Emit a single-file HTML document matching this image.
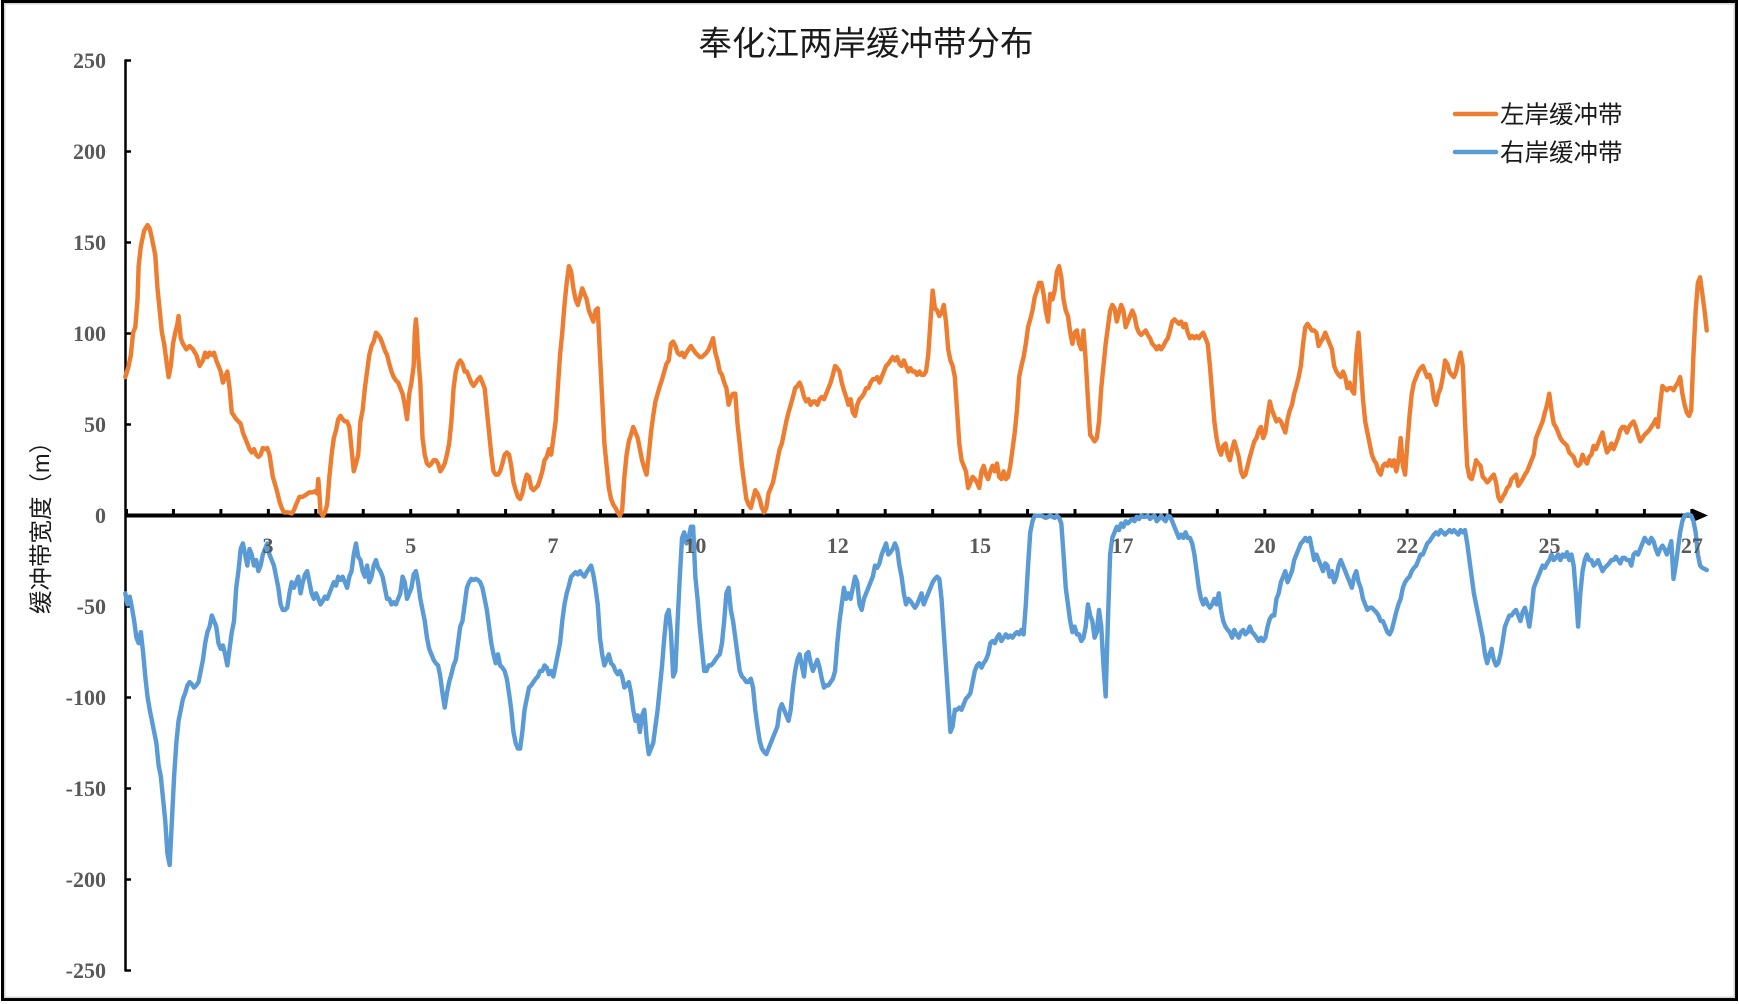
<!DOCTYPE html>
<html>
<head>
<meta charset="utf-8">
<style>
html,body{margin:0;padding:0;background:#fff;}
svg{display:block;}
</style>
</head>
<body>
<svg width="1739" height="1004" viewBox="0 0 1739 1004" xmlns="http://www.w3.org/2000/svg">
<rect x="0" y="0" width="1739" height="1004" fill="#fff"/>
<rect x="2.5" y="1.5" width="1734" height="998" fill="none" stroke="#000" stroke-width="3"/>
<rect x="4.8" y="3.8" width="1729.5" height="993.5" fill="none" stroke="#d4d4d4" stroke-width="1.5"/>

<text x="866" y="55" text-anchor="middle" font-family="'Liberation Sans','Noto Sans CJK SC',sans-serif" font-size="33.5" fill="#1a1a1a">奉化江两岸缓冲带分布</text>

<!-- y axis -->
<g stroke="#000" stroke-width="2.5" fill="none">
<line x1="125.5" y1="60" x2="125.5" y2="971"/>
<line x1="124.5" y1="60.5" x2="131" y2="60.5"/>
<line x1="124.5" y1="151.5" x2="131" y2="151.5"/>
<line x1="124.5" y1="242.5" x2="131" y2="242.5"/>
<line x1="124.5" y1="333.5" x2="131" y2="333.5"/>
<line x1="124.5" y1="424.5" x2="131" y2="424.5"/>
<line x1="124.5" y1="606.5" x2="131" y2="606.5"/>
<line x1="124.5" y1="697.5" x2="131" y2="697.5"/>
<line x1="124.5" y1="788.5" x2="131" y2="788.5"/>
<line x1="124.5" y1="879.5" x2="131" y2="879.5"/>
<line x1="124.5" y1="970.5" x2="131" y2="970.5"/>
</g>
<g font-family="'Liberation Serif',serif" font-weight="bold" font-size="22" fill="#595959" text-anchor="end">
<text x="106" y="68">250</text>
<text x="106" y="159">200</text>
<text x="106" y="250">150</text>
<text x="106" y="341">100</text>
<text x="106" y="432">50</text>
<text x="106" y="523">0</text>
<text x="106" y="614">-50</text>
<text x="106" y="705">-100</text>
<text x="106" y="796">-150</text>
<text x="106" y="887">-200</text>
<text x="106" y="978">-250</text>
</g>
<text transform="translate(49,522) rotate(-90)" text-anchor="middle" font-family="'Liberation Sans','Noto Sans CJK SC',sans-serif" font-size="23.5" fill="#1a1a1a">缓冲带宽度（m）</text>

<!-- x axis -->
<line x1="125" y1="515.5" x2="1695" y2="515.5" stroke="#000" stroke-width="4"/>
<polygon points="1692,508.5 1708,515.5 1692,522.5" fill="#000"/>
<g stroke="#000" stroke-width="3">
<line x1="126.5" y1="509" x2="126.5" y2="515"/>
<line x1="173.45" y1="509" x2="173.45" y2="515"/>
<line x1="220.9" y1="509" x2="220.9" y2="515"/>
<line x1="268.35" y1="509" x2="268.35" y2="515"/>
<line x1="315.8" y1="509" x2="315.8" y2="515"/>
<line x1="363.25" y1="509" x2="363.25" y2="515"/>
<line x1="410.7" y1="509" x2="410.7" y2="515"/>
<line x1="458.15" y1="509" x2="458.15" y2="515"/>
<line x1="505.6" y1="509" x2="505.6" y2="515"/>
<line x1="553.05" y1="509" x2="553.05" y2="515"/>
<line x1="600.5" y1="509" x2="600.5" y2="515"/>
<line x1="647.95" y1="509" x2="647.95" y2="515"/>
<line x1="695.4" y1="509" x2="695.4" y2="515"/>
<line x1="742.85" y1="509" x2="742.85" y2="515"/>
<line x1="790.3" y1="509" x2="790.3" y2="515"/>
<line x1="837.75" y1="509" x2="837.75" y2="515"/>
<line x1="885.2" y1="509" x2="885.2" y2="515"/>
<line x1="932.65" y1="509" x2="932.65" y2="515"/>
<line x1="980.1" y1="509" x2="980.1" y2="515"/>
<line x1="1027.55" y1="509" x2="1027.55" y2="515"/>
<line x1="1075" y1="509" x2="1075" y2="515"/>
<line x1="1122.45" y1="509" x2="1122.45" y2="515"/>
<line x1="1169.9" y1="509" x2="1169.9" y2="515"/>
<line x1="1217.35" y1="509" x2="1217.35" y2="515"/>
<line x1="1264.8" y1="509" x2="1264.8" y2="515"/>
<line x1="1312.25" y1="509" x2="1312.25" y2="515"/>
<line x1="1359.7" y1="509" x2="1359.7" y2="515"/>
<line x1="1407.15" y1="509" x2="1407.15" y2="515"/>
<line x1="1454.6" y1="509" x2="1454.6" y2="515"/>
<line x1="1502.05" y1="509" x2="1502.05" y2="515"/>
<line x1="1549.5" y1="509" x2="1549.5" y2="515"/>
<line x1="1596.95" y1="509" x2="1596.95" y2="515"/>
<line x1="1644.4" y1="509" x2="1644.4" y2="515"/>
<line x1="1691.85" y1="509" x2="1691.85" y2="515"/>
</g>

<!-- series -->
<g transform="scale(1.109)" fill="none" stroke-width="4" stroke-linejoin="round" stroke-linecap="round">
<polyline stroke="#ED7D31" points="113,340 116,330 118,320 120,300 122,295 124,270 125,240 127,222 130,208 133,203 135,206 137,215 140,230 142,260 144,280 146,300 148,310 150,325 152,340 154,330 156,310 158,300 160,292 161,285 163,305 165,310 168,315 171,312 174,315 177,320 180,330 183,325 185,318 187,322 189,318 191,320 193,318 195,325 197,330 199,335 201,345 203,340 205,335 207,350 209,372 211,375 213,378 215,380 217,382 219,390 221,395 223,400 225,405 227,408 229,405 231,410 233,412 235,410 237,404 239,405 241,404 243,410 246,430 249,440 252,452 254,458 256,462 258,462 260,462 263,463 265,460 267,455 270,448 273,448 276,446 279,444 282,444 284,443 286,445 287,432 288,445 289,462 291,465 293,462 295,455 297,430 299,410 301,395 303,388 305,378 307,375 309,378 311,380 313,380 315,385 317,405 319,425 321,418 323,410 325,380 327,370 329,350 331,335 333,320 335,312 337,308 339,300 341,302 343,305 345,310 347,316 349,320 351,328 353,335 355,340 357,343 359,345 361,350 363,355 365,365 367,378 369,355 371,345 373,330 374,300 375,288 376,300 377,320 379,345 381,395 383,410 385,418 387,420 389,418 391,415 393,415 395,418 397,425 399,422 401,418 403,410 405,400 407,380 409,350 411,335 413,328 415,325 417,328 419,335 421,335 423,340 425,345 427,348 429,345 431,342 433,340 435,345 437,350 439,370 441,390 443,410 445,425 447,428 449,428 451,425 453,418 455,410 457,408 459,410 461,420 463,435 465,442 467,448 469,450 471,445 473,435 475,428 477,430 479,440 481,442 483,440 485,438 487,432 489,425 491,415 493,412 495,405 497,410 499,395 501,380 503,350 505,320 507,300 509,275 511,255 513,240 515,245 517,260 519,270 521,275 523,268 525,260 527,265 529,270 531,280 533,285 535,290 537,280 539,278 541,320 543,360 545,400 547,420 549,440 551,450 553,455 555,458 557,462 559,465 561,460 563,430 565,410 567,398 569,392 571,385 573,390 575,395 577,405 579,415 581,422 583,428 585,410 587,390 589,375 591,362 593,355 595,348 597,342 599,335 601,328 603,325 605,310 607,308 609,312 611,318 613,320 615,318 617,322 619,318 621,315 623,312 625,315 627,318 629,320 631,322 633,322 635,320 637,318 639,315 641,310 643,305 645,318 647,325 649,335 651,338 653,345 655,350 657,365 659,358 661,355 663,355 665,382 667,400 669,420 671,435 673,450 675,455 677,458 679,450 681,442 683,445 685,450 687,458 689,462 691,458 693,445 695,440 697,435 699,425 701,415 703,405 705,400 707,390 709,380 711,372 713,365 715,358 717,350 719,348 721,345 723,350 725,358 727,362 729,360 731,365 733,362 735,362 737,365 739,360 741,358 743,360 745,355 747,350 749,345 751,338 753,330 755,332 757,335 759,345 761,352 763,358 765,365 767,360 769,372 771,375 773,365 775,360 777,358 779,355 781,350 783,350 785,345 787,342 789,342 791,340 793,345 795,340 797,335 799,330 801,328 803,325 805,322 807,325 809,322 811,328 813,330 815,325 817,330 819,335 821,332 823,335 825,335 827,338 829,335 831,338 833,338 835,335 837,320 839,290 841,262 843,278 845,280 847,285 849,282 851,275 853,290 855,315 857,325 859,330 861,340 863,370 865,400 867,415 869,420 871,425 873,440 875,435 877,430 879,432 881,435 883,440 885,425 887,420 889,428 891,432 893,425 895,420 897,425 899,418 901,430 903,432 905,425 907,432 909,430 911,420 913,405 915,390 917,370 919,340 921,330 923,322 925,310 927,295 929,288 931,280 933,268 935,262 937,255 939,255 941,265 943,280 945,290 947,265 949,270 951,262 953,245 955,240 957,250 959,270 961,280 963,285 965,300 967,310 969,300 971,298 973,310 975,315 977,298 979,325 981,360 983,392 985,395 987,398 989,395 991,380 993,350 995,330 997,310 999,295 1001,280 1003,275 1005,278 1007,290 1009,282 1011,275 1013,280 1015,295 1017,290 1019,285 1021,280 1023,285 1025,295 1027,300 1029,302 1031,300 1033,298 1035,302 1037,305 1039,310 1041,312 1043,315 1045,312 1047,315 1049,312 1051,308 1053,305 1055,298 1057,290 1059,288 1061,290 1063,292 1065,290 1067,295 1069,292 1071,300 1073,305 1075,303 1077,305 1079,303 1081,305 1083,302 1085,300 1087,305 1089,310 1091,330 1093,355 1095,380 1097,395 1099,405 1101,410 1103,402 1105,400 1107,410 1109,415 1111,405 1113,398 1115,405 1117,412 1119,425 1121,430 1123,428 1125,420 1127,412 1129,405 1131,398 1133,395 1135,388 1137,385 1139,395 1141,390 1143,375 1145,362 1147,370 1149,375 1151,380 1153,378 1155,380 1157,385 1159,390 1161,378 1163,370 1165,365 1167,355 1169,348 1171,340 1173,330 1175,310 1177,295 1179,292 1181,295 1183,298 1185,298 1187,300 1189,312 1191,308 1193,305 1195,300 1197,305 1199,310 1201,315 1203,330 1205,335 1207,338 1209,340 1211,335 1213,340 1215,350 1217,345 1219,352 1221,355 1223,320 1225,300 1227,330 1229,360 1231,380 1233,390 1235,400 1237,410 1239,415 1241,418 1243,425 1245,428 1247,420 1249,418 1251,420 1253,415 1255,420 1257,415 1259,425 1261,415 1263,395 1265,420 1267,428 1269,400 1271,375 1273,355 1275,345 1277,340 1279,335 1281,332 1283,330 1285,335 1287,340 1289,338 1291,345 1293,360 1295,365 1297,355 1299,350 1301,340 1303,325 1305,328 1307,335 1309,338 1311,340 1313,335 1315,325 1317,318 1319,330 1321,380 1323,420 1325,430 1327,432 1329,425 1331,415 1333,418 1335,420 1337,430 1339,432 1341,435 1343,433 1345,430 1347,428 1349,435 1351,448 1353,452 1355,448 1357,445 1359,440 1361,438 1363,432 1365,430 1367,428 1369,438 1371,435 1373,432 1375,428 1377,425 1379,420 1381,415 1383,410 1385,395 1387,390 1389,385 1391,380 1393,372 1395,365 1397,355 1399,370 1401,382 1403,385 1405,390 1407,395 1409,398 1411,400 1413,402 1415,408 1417,410 1419,412 1421,418 1423,420 1425,418 1427,410 1429,415 1431,418 1433,412 1435,410 1437,402 1439,405 1441,400 1443,395 1445,390 1447,400 1449,408 1451,405 1453,400 1455,405 1457,400 1459,395 1461,388 1463,385 1465,385 1467,390 1469,385 1471,382 1473,380 1475,385 1477,392 1479,398 1481,395 1483,392 1485,390 1487,388 1489,385 1491,382 1493,378 1495,385 1497,365 1499,348 1501,350 1503,352 1505,350 1507,350 1509,352 1511,348 1513,345 1515,340 1517,355 1519,365 1521,372 1523,375 1525,370 1527,320 1529,280 1531,255 1533,250 1535,265 1537,280 1539,298"/>
<polyline stroke="#5B9BD5" points="113,535 115,545 117,538 119,548 121,560 123,575 125,580 127,570 129,588 131,610 133,628 135,640 137,650 139,660 141,670 143,690 145,700 147,720 149,740 151,770 153,780 155,740 157,700 159,670 161,650 163,640 165,630 167,625 169,618 171,615 173,617 175,620 177,618 179,615 181,605 183,595 185,580 187,570 189,565 191,555 193,560 195,565 197,580 199,585 201,582 203,590 205,600 207,585 209,570 211,560 213,530 215,515 217,495 219,490 221,500 223,510 225,495 227,500 229,510 231,505 233,515 235,510 237,500 239,495 241,490 243,500 245,505 247,510 249,520 251,530 253,545 255,550 257,550 259,548 261,535 263,525 265,530 267,525 269,520 271,535 273,525 275,518 277,515 279,525 281,535 283,540 285,535 287,540 289,545 291,542 293,538 295,540 297,535 299,530 301,525 303,528 305,520 307,523 309,520 311,525 313,530 315,520 317,515 319,500 321,490 323,502 325,505 327,515 329,520 331,510 333,525 335,520 337,510 339,505 341,512 343,515 345,520 347,530 349,540 351,540 353,545 355,543 357,545 359,540 361,535 363,520 365,525 367,540 369,535 371,530 373,518 375,515 377,525 379,540 381,550 383,560 385,575 387,585 389,590 391,595 393,598 395,600 397,610 399,625 401,638 403,625 405,615 407,608 409,600 411,595 413,580 415,565 417,560 419,545 421,530 423,525 425,522 427,523 429,522 431,523 433,525 435,530 437,540 439,550 441,565 443,580 445,590 447,598 449,590 451,600 453,602 455,605 457,612 459,625 461,640 463,660 465,670 467,675 469,675 471,660 473,640 475,630 477,620 479,618 481,615 483,612 485,610 487,605 489,605 491,600 493,602 495,608 497,605 499,610 501,600 503,590 505,580 507,560 509,545 511,535 513,528 515,520 517,518 519,516 521,518 523,515 525,518 527,520 529,516 531,513 533,510 535,518 537,530 539,545 541,575 543,590 545,600 547,595 549,590 551,598 553,600 555,605 557,608 559,605 561,610 563,620 565,618 567,615 569,625 571,640 573,650 575,645 577,660 579,645 581,640 583,665 585,680 587,675 589,670 591,655 593,640 595,620 597,600 599,575 601,555 603,550 605,570 607,610 609,605 611,560 613,520 615,485 617,480 619,490 621,485 623,475 625,475 627,520 629,540 631,565 633,585 635,605 637,605 639,600 641,600 643,598 645,595 647,592 649,590 651,580 653,560 655,535 657,530 659,550 661,560 663,575 665,590 667,605 669,610 671,612 673,615 675,615 677,612 679,620 681,640 683,655 685,668 687,675 689,678 691,680 693,675 695,670 697,665 699,660 701,655 703,640 705,635 707,640 709,645 711,650 713,640 715,620 717,605 719,595 721,590 723,600 725,610 727,590 729,588 731,598 733,605 735,600 737,595 739,602 741,612 743,620 745,618 747,618 749,615 751,612 753,605 755,580 757,560 759,545 761,530 763,540 765,535 767,540 769,530 771,520 773,525 775,545 777,550 779,540 781,535 783,530 785,525 787,520 789,510 791,512 793,508 795,500 797,495 799,490 801,500 803,498 805,495 807,490 809,495 811,510 813,520 815,535 817,545 819,540 821,542 823,545 825,548 827,545 829,540 831,535 833,545 835,540 837,535 839,530 841,525 843,522 845,520 847,522 849,540 851,570 853,600 855,630 857,660 859,655 861,640 863,640 865,638 867,640 869,635 871,630 873,628 875,625 877,615 879,605 881,600 883,598 885,602 887,598 889,595 891,590 893,580 895,578 897,580 899,575 901,572 903,578 905,575 907,572 909,575 911,573 913,575 915,572 917,570 919,572 921,568 923,572 925,545 927,510 929,480 931,470 933,465 935,465 937,465 939,465 941,466 943,467 945,466 947,465 949,466 951,467 953,465 955,467 957,472 959,500 961,530 963,545 965,560 967,570 969,565 971,572 973,572 975,578 977,575 979,565 981,545 983,555 985,560 987,575 989,570 991,550 993,565 995,600 997,628 999,560 1001,500 1003,485 1005,480 1007,475 1009,478 1011,472 1013,475 1015,470 1017,472 1019,470 1021,468 1023,470 1025,466 1027,468 1029,465 1031,466 1033,466 1035,465 1037,468 1039,466 1041,465 1043,470 1045,468 1047,465 1049,468 1051,470 1053,465 1055,466 1057,470 1059,475 1061,480 1063,485 1065,482 1067,485 1069,480 1071,485 1073,485 1075,490 1077,500 1079,515 1081,530 1083,540 1085,545 1087,540 1089,545 1091,548 1093,545 1095,540 1097,545 1099,535 1101,550 1103,560 1105,565 1107,568 1109,570 1111,575 1113,568 1115,572 1117,575 1119,570 1121,568 1123,572 1125,570 1127,565 1129,570 1131,572 1133,575 1135,578 1137,575 1139,578 1141,575 1143,565 1145,558 1147,555 1149,555 1151,540 1153,535 1155,525 1157,520 1159,515 1161,525 1163,520 1165,515 1167,505 1169,500 1171,495 1173,490 1175,488 1177,485 1179,488 1181,485 1183,495 1185,505 1187,500 1189,505 1191,510 1193,515 1195,508 1197,510 1199,520 1201,515 1203,525 1205,520 1207,510 1209,505 1211,510 1213,515 1215,520 1217,525 1219,530 1221,520 1223,515 1225,525 1227,530 1229,540 1231,545 1233,550 1235,548 1237,548 1239,550 1241,552 1243,555 1245,560 1247,560 1249,565 1251,570 1253,572 1255,568 1257,560 1259,552 1261,545 1263,540 1265,530 1267,525 1269,522 1271,520 1273,515 1275,512 1277,510 1279,505 1281,500 1283,500 1285,495 1287,490 1289,488 1291,485 1293,482 1295,480 1297,482 1299,478 1301,480 1303,482 1305,480 1307,478 1309,480 1311,478 1313,480 1315,482 1317,478 1319,480 1321,478 1323,490 1325,505 1327,520 1329,535 1331,545 1333,555 1335,565 1337,575 1339,590 1341,598 1343,590 1345,585 1347,595 1349,600 1351,598 1353,590 1355,578 1357,565 1359,560 1361,555 1363,555 1365,552 1367,550 1369,555 1371,560 1373,552 1375,548 1377,555 1379,565 1381,550 1383,530 1385,525 1387,520 1389,515 1391,510 1393,512 1395,508 1397,505 1399,500 1401,505 1403,503 1405,500 1407,505 1409,500 1411,502 1413,498 1415,505 1417,500 1419,510 1421,535 1423,565 1425,535 1427,515 1429,505 1431,500 1433,505 1435,505 1437,510 1439,508 1441,505 1443,510 1445,515 1447,512 1449,510 1451,508 1453,505 1455,505 1457,502 1459,505 1461,508 1463,503 1465,503 1467,505 1469,505 1471,510 1473,500 1475,498 1477,500 1479,495 1481,490 1483,485 1485,488 1487,490 1489,485 1491,488 1493,495 1495,500 1497,495 1499,492 1501,495 1503,500 1505,495 1507,488 1509,522 1511,510 1513,495 1515,480 1517,470 1519,465 1521,464 1523,464 1525,465 1527,470 1529,480 1531,500 1533,510 1535,512 1537,513 1539,514"/>
</g>

<!-- x labels -->
<g font-family="'Liberation Serif',serif" font-weight="bold" font-size="22" fill="#595959" text-anchor="middle">
<text x="268" y="553">3</text>
<text x="410.7" y="553">5</text>
<text x="553" y="553">7</text>
<text x="695.4" y="553">10</text>
<text x="837.8" y="553">12</text>
<text x="980.1" y="553">15</text>
<text x="1122.5" y="553">17</text>
<text x="1264.8" y="553">20</text>
<text x="1407.2" y="553">22</text>
<text x="1549.5" y="553">25</text>
<text x="1691.9" y="553">27</text>
</g>

<!-- legend -->
<line x1="1455" y1="114" x2="1496" y2="114" stroke="#ED7D31" stroke-width="4.5" stroke-linecap="round"/>
<line x1="1455" y1="152" x2="1496" y2="152" stroke="#5B9BD5" stroke-width="4.5" stroke-linecap="round"/>
<g font-family="'Liberation Sans','Noto Sans CJK SC',sans-serif" font-size="24.5" fill="#1a1a1a">
<text x="1500" y="123">左岸缓冲带</text>
<text x="1500" y="161">右岸缓冲带</text>
</g>
</svg>
</body>
</html>
